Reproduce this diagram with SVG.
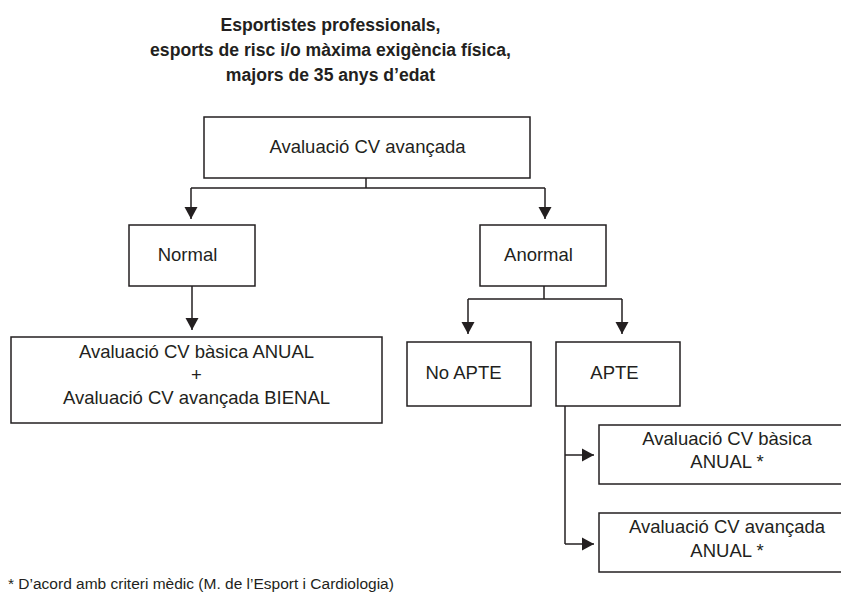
<svg xmlns="http://www.w3.org/2000/svg" width="841" height="598" viewBox="0 0 841 598">
<style>
.box{fill:#fff;stroke:#231f20;stroke-width:1.5}
.t{font-family:"Liberation Sans",Arial,sans-serif;font-size:18.5px;fill:#231f20;text-anchor:middle}
.title{font-family:"Liberation Sans",Arial,sans-serif;font-size:17.6px;font-weight:bold;fill:#231f20;text-anchor:middle}
.note{font-family:"Liberation Sans",Arial,sans-serif;font-size:15.5px;fill:#231f20}
.c{fill:none;stroke:#231f20;stroke-width:1.5}
</style>
<defs>
<marker id="arr" markerUnits="userSpaceOnUse" markerWidth="13" markerHeight="14" refX="12" refY="6.5" orient="auto" viewBox="0 0 13 13">
<path d="M0,0 L12,6.5 L0,13 z" fill="#231f20"/>
</marker>
</defs>
<rect width="841" height="598" fill="#fff"/>
<g id="title">
<text class="title" x="330.5" y="31">Esportistes professionals,</text>
<text class="title" x="330.5" y="56">esports de risc i/o màxima exigència física,</text>
<text class="title" x="330.5" y="81">majors de 35 anys d’edat</text>
</g>
<g id="connectors">
<path class="c" d="M366,178 V188 M191,188 H545"/>
<path class="c" d="M191,188 V219" marker-end="url(#arr)"/>
<path class="c" d="M545,188 V219" marker-end="url(#arr)"/>
<path class="c" d="M192,286 V330" marker-end="url(#arr)"/>
<path class="c" d="M544,286 V299 M468,299 H622"/>
<path class="c" d="M468,299 V334" marker-end="url(#arr)"/>
<path class="c" d="M622,299 V334" marker-end="url(#arr)"/>
<path class="c" d="M565,406 V544"/>
<path class="c" d="M565,455 H594" marker-end="url(#arr)"/>
<path class="c" d="M565,544 H594" marker-end="url(#arr)"/>
</g>
<g id="avaluacio">
<rect class="box" x="204" y="117" width="326" height="61"/>
<text class="t" x="367.5" y="153">Avaluació CV avançada</text>
</g>
<g id="normal">
<rect class="box" x="129" y="225" width="126" height="61"/>
<text class="t" x="187.5" y="261">Normal</text>
</g>
<g id="anormal">
<rect class="box" x="480" y="225" width="126" height="61"/>
<text class="t" x="538.5" y="261">Anormal</text>
</g>
<g id="normal-result">
<rect class="box" x="11" y="337" width="371" height="86"/>
<text class="t" x="196.5" y="358">Avaluació CV bàsica ANUAL</text>
<text class="t" x="196.5" y="381">+</text>
<text class="t" x="196.5" y="404">Avaluació CV avançada BIENAL</text>
</g>
<g id="no-apte">
<rect class="box" x="407" y="342" width="124" height="64"/>
<text class="t" x="463.5" y="379">No APTE</text>
</g>
<g id="apte">
<rect class="box" x="556" y="342" width="124" height="64"/>
<text class="t" x="614.5" y="379">APTE</text>
</g>
<g id="basica-anual">
<rect class="box" x="599" y="425" width="250" height="59"/>
<text class="t" x="727" y="445">Avaluació CV bàsica</text>
<text class="t" x="727" y="468">ANUAL *</text>
</g>
<g id="avancada-anual">
<rect class="box" x="599" y="513" width="250" height="59"/>
<text class="t" x="727" y="533">Avaluació CV avançada</text>
<text class="t" x="727" y="557">ANUAL *</text>
</g>
<g id="footnote">
<text class="note" x="8" y="589">* D’acord amb criteri mèdic (M. de l’Esport i Cardiologia)</text>
</g>
</svg>
